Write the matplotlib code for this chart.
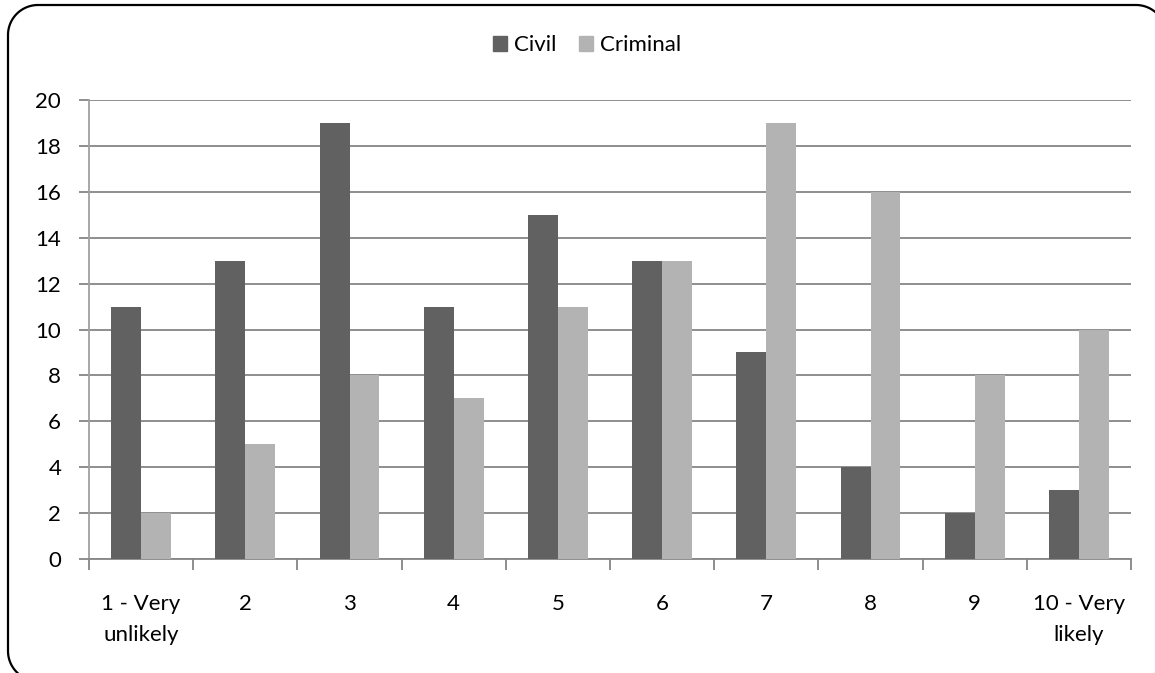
import numpy as np
import matplotlib.pyplot as plt
from matplotlib.patches import Patch

# datos del gráfico
categorias = ['1 - Very\nunlikely', '2', '3', '4', '5', '6', '7', '8', '9', '10 - Very\nlikely']
civil = [11, 13, 19, 11, 15, 13, 9, 4, 2, 3]
criminal = [2, 5, 8, 7, 11, 13, 19, 16, 8, 10]

color_civil = '#616161'
color_criminal = '#B3B3B3'

plt.rcParams['font.family'] = ['Lato', 'DejaVu Sans']

W, H = 1155, 673
fig = plt.figure(figsize=(W / 100, H / 100), dpi=100)


def rectangulo_redondeado(x0, y0, x1, y1, r, n=30):
    # esquinas: sup-der, sup-izq, inf-izq, inf-der
    centros = [(x1 - r, y1 - r, 0), (x0 + r, y1 - r, 90),
               (x0 + r, y0 + r, 180), (x1 - r, y0 + r, 270)]
    xs, ys = [], []
    for cx, cy, a0 in centros:
        t = np.radians(np.linspace(a0, a0 + 90, n))
        xs.extend(cx + r * np.cos(t))
        ys.extend(cy + r * np.sin(t))
    xs.append(xs[0])
    ys.append(ys[0])
    return xs, ys


# marco redondeado, en un eje de fondo con unidades en pixeles
fondo = fig.add_axes([0, 0, 1, 1], zorder=-1)
fondo.set_xlim(0, W)
fondo.set_ylim(0, H)
fondo.axis('off')
bx, by = rectangulo_redondeado(8, H - 681, 1166, H - 5, 30)
fondo.plot(bx, by, color='black', linewidth=1.6, clip_on=False)

ax = fig.add_axes([89 / W, 1 - 559 / H, (1131 - 89) / W, (559 - 100) / H])

x = np.arange(len(categorias))
ancho = 0.286
ax.bar(x - ancho / 2, civil, ancho, color=color_civil, zorder=3)
ax.bar(x + ancho / 2, criminal, ancho, color=color_criminal, zorder=3)

ax.set_xlim(-0.5, len(categorias) - 0.5)
ax.set_ylim(0, 20)
ax.set_yticks(range(0, 21, 2))
ax.yaxis.grid(True, color='#868686', linewidth=1.3, zorder=0)

for lado in ['top', 'right']:
    ax.spines[lado].set_visible(False)
ax.spines['left'].set_color('#A0A0A0')
ax.spines['bottom'].set_color('#868686')
ax.spines['left'].set_linewidth(1.3)
ax.spines['bottom'].set_linewidth(1.3)

ax.set_xticks(np.arange(-0.5, len(categorias), 1))
ax.set_xticklabels([])
ax.set_xticks(x, minor=True)
ax.set_xticklabels(categorias, minor=True, fontsize=16, linespacing=1.7)
ax.tick_params(axis='x', which='major', length=8, color='#868686', width=1.3)
ax.tick_params(axis='x', which='minor', length=0, pad=25)
ax.tick_params(axis='y', length=7, color='#868686', width=1.3, labelsize=16, pad=13)

leyenda = [Patch(color=color_civil, label='Civil'), Patch(color=color_criminal, label='Criminal')]
fig.legend(handles=leyenda, loc='center', bbox_to_anchor=(587 / W, 1 - 45 / H), ncol=2,
           frameon=False, fontsize=16, handlelength=0.65, handleheight=0.65,
           handletextpad=0.3, columnspacing=1.0)

fig.savefig('out.png', dpi=100)
